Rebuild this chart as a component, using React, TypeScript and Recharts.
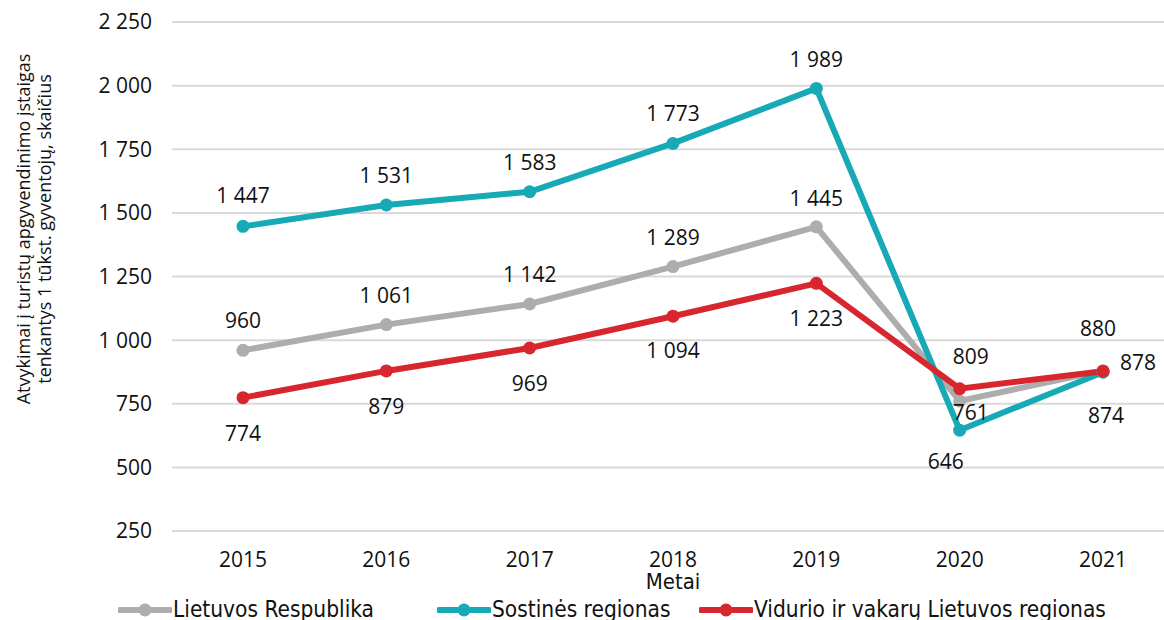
import React from 'react'
import { LineChart, Line, CartesianGrid, XAxis, YAxis, LabelList } from 'recharts'

const years = ['2015', '2016', '2017', '2018', '2019', '2020', '2021']
const lietuva = [960, 1061, 1142, 1289, 1445, 761, 880]
const sostine = [1447, 1531, 1583, 1773, 1989, 646, 874]
const vidurio = [774, 879, 969, 1094, 1223, 809, 878]
const yTicks = [250, 500, 750, 1000, 1250, 1500, 1750, 2000, 2250]

const seriesNames = ['Lietuvos Respublika', 'Sostinės regionas', 'Vidurio ir vakarų Lietuvos regionas']
const colors = ['#ADADAD', '#17A9B5', '#D8262F']

// label offsets from the point (dx, dy)
const grayShift = [[0, -30], [0, -30], [0, -30], [0, -30], [0, -29], [11, 11], [-5, -43]]
const tealShift = [[0, -31], [0, -30], [0, -30], [0, -30], [0, -29], [-14, 31], [3, 43]]
const redShift = [[0, 35], [0, 35], [0, 35], [0, 34], [0, 35], [11, -33], [35, -9]]

const data = years.map((y, i) => ({
  year: y,
  lr: lietuva[i],
  sr: sostine[i],
  vr: vidurio[i],
}))

const fmt = (v: number) => {
  const s = String(Math.round(v))
  return s.length > 3 ? s.slice(0, s.length - 3) + ' ' + s.slice(-3) : s
}

const font = '"Open Sans", "Noto Sans", sans-serif'
const narrow = '"DejaVu Sans Condensed", "DejaVu Sans", sans-serif'

const makeLabel = (shift: number[][]) => (props: any) => {
  const { x, y, value, index } = props
  const [dx, dy] = shift[index] || [0, -30]
  return (
    <text x={x + dx} y={y + dy} textAnchor="middle" dominantBaseline="central"
      fontFamily={font} fontSize={21} fill="#111">
      {fmt(value)}
    </text>
  )
}

const App: React.FC = () => {
  return (
    <div style={{ position: 'absolute', left: 0, top: 0, width: 1164, height: 620, background: '#fff', overflow: 'hidden' }}>
      <LineChart width={1164} height={620} data={data}
        margin={{ top: 22, right: -10, left: 0, bottom: 49 }}>
        <CartesianGrid horizontal vertical={false} stroke="#D9D9D9" strokeWidth={2} />
        <XAxis dataKey="year" axisLine={false} tickLine={false} tickSize={0} tickMargin={21} height={40}
          padding={{ left: 71, right: 71 }}
          interval={0} tick={{ fontFamily: font, fontSize: 21, fill: '#111' }} />
        <YAxis domain={[250, 2250]} ticks={yTicks} axisLine={false} tickLine={false} tickSize={0}
          tickMargin={20} width={172} tickFormatter={fmt}
          tick={{ fontFamily: font, fontSize: 21, fill: '#111' }} />
        <Line dataKey="lr" stroke={colors[0]} strokeWidth={6} isAnimationActive={false}
          dot={{ r: 6.5, fill: colors[0], stroke: colors[0], strokeWidth: 0 }}>
          <LabelList dataKey="lr" content={makeLabel(grayShift)} />
        </Line>
        <Line dataKey="sr" stroke={colors[1]} strokeWidth={6} isAnimationActive={false}
          dot={{ r: 6.5, fill: colors[1], stroke: colors[1], strokeWidth: 0 }}>
          <LabelList dataKey="sr" content={makeLabel(tealShift)} />
        </Line>
        <Line dataKey="vr" stroke={colors[2]} strokeWidth={6} isAnimationActive={false}
          dot={{ r: 6.5, fill: colors[2], stroke: colors[2], strokeWidth: 0 }}>
          <LabelList dataKey="vr" content={makeLabel(redShift)} />
        </Line>
      </LineChart>

      <svg width={70} height={460} style={{ position: 'absolute', left: 0, top: 0 }}>
        <text transform="translate(30,229) rotate(-90)" textAnchor="middle" fontFamily={font} fontSize={18} fill="#111">
          <tspan x={0} dy={0}>Atvykimai į turistų apgyvendinimo įstaigas</tspan>
          <tspan x={0} dy={21}>tenkantys 1 tūkst. gyventojų, skaičius</tspan>
        </text>
      </svg>

      <div style={{ position: 'absolute', left: 0, top: 569, width: 1164, textAlign: 'center', paddingLeft: 182, boxSizing: 'border-box',
        fontFamily: narrow, fontSize: 22, color: '#111' }}>
        Metai
      </div>

      {seriesNames.map((name, i) => (
        <div key={name} style={{ position: 'absolute', top: 596, left: [118, 437, 699][i], display: 'flex', alignItems: 'center',
          fontFamily: narrow, fontSize: 22.5, color: '#111', whiteSpace: 'nowrap' }}>
          <svg width={54} height={20}>
            <line x1={2} y1={11} x2={52} y2={11} stroke={colors[i]} strokeWidth={6} strokeLinecap="round" />
            <circle cx={27} cy={11} r={6.5} fill={colors[i]} />
          </svg>
          <span style={{ marginLeft: 1 }}>{name}</span>
        </div>
      ))}
    </div>
  )
}

export default App
